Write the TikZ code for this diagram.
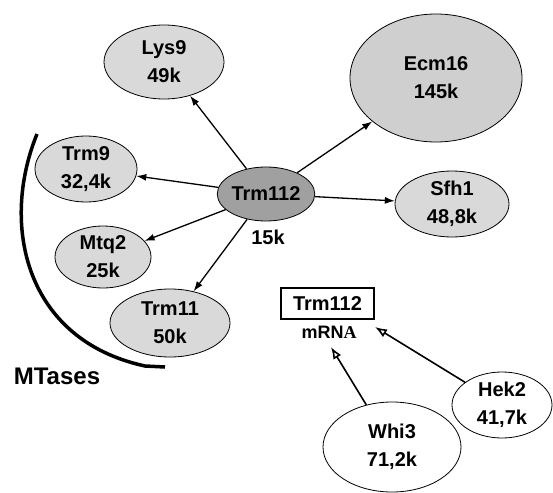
\documentclass[tikz,border=0pt]{standalone}
\usepackage{fontspec}
\setmainfont{Liberation Sans}
\newfontfamily\serifb{Liberation Serif}
\usetikzlibrary{shapes.geometric,arrows.meta}
\definecolor{lightg}{HTML}{D9D9D9}
\definecolor{midg}{HTML}{CFCFCF}
\definecolor{darkg}{HTML}{A0A0A0}
\begin{document}
\begin{tikzpicture}[x=1pt,y=-1pt,
  prot/.style={ellipse,draw=black,line width=0.8pt,inner sep=0pt,align=center,
    font=\fontsize{20}{28}\selectfont\bfseries},
  link/.style={line width=1.3pt,-{Latex[length=10pt,width=7pt]}},
  openlink/.style={line width=1.6pt,-{Latex[length=12pt,width=9pt,fill=white]}},
]
\useasboundingbox (0,0) rectangle (553,492);
\node[prot,fill=lightg,minimum width=120pt,minimum height=74pt] (lys9) at (164,62) {Lys9\\49k};
\node[prot,fill=lightg,minimum width=102pt,minimum height=66pt] (trm9) at (86,169) {Trm9\\32,4k};
\node[prot,fill=lightg,minimum width=96pt,minimum height=62pt] (mtq2) at (103,257) {Mtq2\\25k};
\node[prot,fill=lightg,minimum width=120pt,minimum height=68pt] (trm11) at (170,323) {Trm11\\50k};
\node[prot,fill=midg,minimum width=172pt,minimum height=128pt] (ecm16) at (436,78) {Ecm16\\145k};
\node[prot,fill=lightg,minimum width=114pt,minimum height=66pt] (sfh1) at (452,204) {Sfh1\\48,8k};
\node[prot,fill=darkg,minimum width=80pt,minimum height=54pt] (trm112) at (266,194) {Trm112};
\node[font=\fontsize{20}{28}\selectfont\bfseries] (k15) at (268,237) {15k};
\node[prot,fill=white,minimum width=100pt,minimum height=66pt] (hek2) at (502,405) {Hek2\\41,7k};
\node[prot,fill=white,minimum width=138pt,minimum height=90pt] (whi3) at (392,447) {Whi3\\71,2k};
\node[draw=black,line width=1.2pt,minimum width=93pt,minimum height=31pt,inner sep=0pt,
  font=\fontsize{20}{28}\selectfont\bfseries] (box) at (327.5,303.5) {Trm112};
\node[font=\fontsize{18}{22}\selectfont\bfseries] (mrna) at (329,332) {mRN{\serifb\bfseries A}};
\node[font=\fontsize{24}{28}\selectfont\bfseries] (mtases) at (57,376) {MTases};
\draw[line width=3.5pt] (37,134) .. controls (0,225) and (25,340) .. (145,366) -- (165,367);
\draw[link] (trm112) -- (lys9);
\draw[link] (trm112) -- (trm9);
\draw[link] (trm112) -- (mtq2);
\draw[link] (trm112) -- (trm11);
\draw[link] (trm112) -- (ecm16);
\draw[link] (trm112) -- (sfh1);
\coordinate (wend) at (331,347);
\coordinate (hend) at (375,327);
\draw[openlink] (whi3) -- (wend);
\draw[openlink] (hek2) -- (hend);
\end{tikzpicture}
\end{document}
